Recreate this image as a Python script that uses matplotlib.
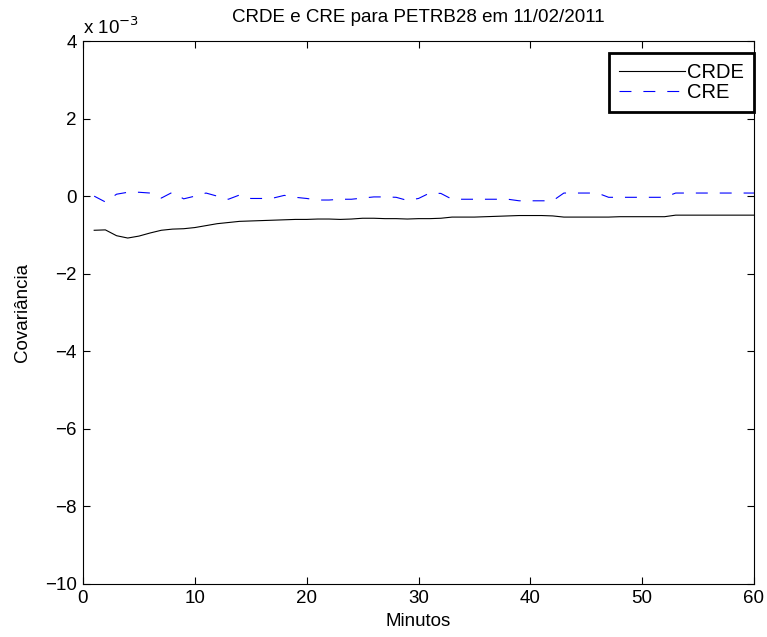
import matplotlib
matplotlib.use("Agg")
import matplotlib.pyplot as plt
from matplotlib.ticker import FuncFormatter

plt.rcParams['font.family'] = ['Liberation Sans', 'DejaVu Sans']
plt.rcParams['font.size'] = 13.5
plt.rcParams['lines.scale_dashes'] = False

# minutes and covariances (values in units of 1e-3)
minutos = list(range(1, 61))
crde = [-0.88, -0.87, -1.02, -1.08, -1.03, -0.95, -0.88, -0.85, -0.84, -0.81,
        -0.76, -0.71, -0.68, -0.65, -0.64, -0.63, -0.62, -0.61, -0.60, -0.60,
        -0.59, -0.59, -0.60, -0.59, -0.57, -0.57, -0.58, -0.58, -0.59, -0.58,
        -0.58, -0.57, -0.54, -0.54, -0.54, -0.53, -0.52, -0.51, -0.50, -0.50,
        -0.50, -0.51, -0.54, -0.54, -0.54, -0.54, -0.54, -0.53, -0.53, -0.53,
        -0.53, -0.53, -0.49, -0.49, -0.49, -0.49, -0.49, -0.49, -0.49, -0.49]
cre = [0.00, -0.15, 0.05, 0.10, 0.10, 0.08, -0.05, 0.10, -0.07, 0.00,
       0.08, 0.00, -0.08, 0.03, -0.06, -0.06, -0.05, 0.02, -0.03, -0.06,
       -0.10, -0.10, -0.08, -0.08, -0.05, -0.02, -0.02, -0.03, -0.11, -0.06,
       0.08, 0.07, -0.08, -0.08, -0.08, -0.08, -0.08, -0.08, -0.12, -0.12,
       -0.12, -0.12, 0.08, 0.08, 0.08, 0.08, -0.03, -0.03, -0.03, -0.03,
       -0.03, -0.03, 0.08, 0.08, 0.08, 0.08, 0.08, 0.08, 0.08, 0.08]

crde = [v * 1e-3 for v in crde]
cre = [v * 1e-3 for v in cre]


def fmt(v, pos):
    n = int(round(v * 1e3))
    return '%d' % n if n >= 0 else '\u2212%d' % -n


fig = plt.figure(figsize=(7.67, 6.37), dpi=100)
ax = fig.add_axes([83 / 767, 53 / 637, 671 / 767, 543 / 637])

ax.plot(minutos, crde, color='black', lw=0.8, label='CRDE')
ax.plot(minutos, cre, color='#0000ff', lw=0.8, dashes=(8.6, 8.6), label='CRE')

ax.set_xlim(0, 60)
ax.set_ylim(-10e-3, 4e-3)
ax.set_xticks(range(0, 61, 10))
ax.set_yticks([v * 1e-3 for v in range(-10, 5, 2)])
ax.yaxis.set_major_formatter(FuncFormatter(fmt))
ax.tick_params(direction='in', top=True, right=True, length=5, width=0.8, labelsize=13.5, pad=4.5)
for s in ax.spines.values():
    s.set_linewidth(0.8)

ax.set_title('CRDE e CRE para PETRB28 em 11/02/2011', fontsize=13.5, pad=14)
ax.set_xlabel('Minutos', fontsize=13.5, labelpad=4)
ax.set_ylabel('Covariância', fontsize=13.5, labelpad=10)
ax.text(0, 1.005, 'x 10$^{\u22123}$', transform=ax.transAxes, ha='left', va='bottom', fontsize=13.5)

leg = ax.legend(loc='upper right', bbox_to_anchor=(1.0, 0.978), fancybox=False, framealpha=1,
                handlelength=3.25, handletextpad=0.12, borderpad=0.5, labelspacing=0.05,
                borderaxespad=0, fontsize=14.5)
leg.get_frame().set_edgecolor('black')
leg.get_frame().set_linewidth(2)

fig.savefig('out.png', dpi=100)
